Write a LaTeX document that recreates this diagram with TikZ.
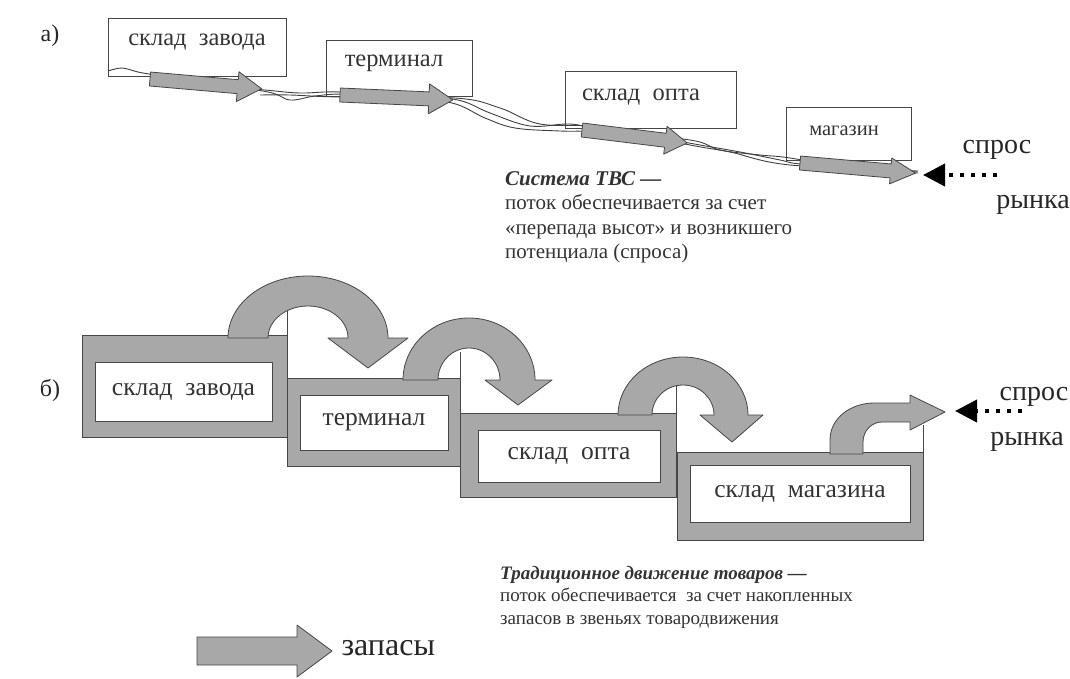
\documentclass[tikz,border=0pt]{standalone}
\usepackage{fontspec}
\setmainfont{Liberation Serif}
\usepackage{xcolor}
\usepackage{tikz}
\usetikzlibrary{arrows.meta, positioning}
\definecolor{stockgray}{RGB}{168,168,168}
\definecolor{edgegray}{RGB}{70,70,70}
\tikzstyle{boxA} = [rectangle, 
draw=edgegray, 
line width=0.8pt, 
inner sep=0pt]
\tikzstyle{outerB} = [rectangle, 
draw=edgegray, 
fill=stockgray, 
line width=0.9pt, 
inner sep=0pt]
\tikzstyle{innerB} = [rectangle, 
draw=edgegray, 
fill=white, 
line width=0.9pt, 
inner sep=0pt, 
text=black!80, 
font=\fontsize{25.5}{28}\selectfont]
\tikzstyle{lblA} = [text=black!80, font=\fontsize{24.5}{27}\selectfont]
\tikzstyle{bigtext} = [text=black!85, font=\fontsize{28}{30}\selectfont]
\tikzstyle{caption} = [align=left, inner sep=0pt, text=black!80, font=\fontsize{21}{24.5}\selectfont]
\tikzstyle{stock} = [draw=edgegray, fill=stockgray, line width=0.8pt, line join=round]
\tikzstyle{flowline} = [black!75, line width=0.9pt]
\tikzstyle{demand} = [line width=4pt, dash pattern=on 4pt off 7pt, -{Triangle[length=22pt,width=22pt]}]

\begin{document}
\begin{tikzpicture}[x=1pt, y=-1pt]
			\useasboundingbox (0,0) rectangle (1070,678);
			
			% а) система ТВС
			\node (labA) [text=black!85, font=\fontsize{24}{28}\selectfont] at (50,36) {а)};
			\node (zavodA) [boxA, minimum width=178pt, minimum height=58pt] at (197,47) {};
			\node (zavodAtxt) [lblA] at (197,42) {склад~ завода};
			\node (termA) [boxA, minimum width=146pt, minimum height=56pt] at (399,68) {};
			\node (termAtxt) [lblA] at (394,63) {терминал};
			\node (optA) [boxA, minimum width=171pt, minimum height=57pt] at (650.5,99.5) {};
			\node (optAtxt) [lblA] at (641,97) {склад~ опта};
			\node (magA) [boxA, minimum width=125pt, minimum height=53pt] at (848.5,133.5) {};
			\node (magAtxt) [lblA, font=\fontsize{20.5}{23}\selectfont] at (844,131) {магазин};
			
			\draw [flowline] plot [smooth, tension=0.6] coordinates {(108,71) (122,68) (138,72) (155,75) (200,82) (268,92) (290,100) (315,96) (345,94) (410,96) (458,100) (490,113) (530,126) (570,124) (600,130) (660,138) (700,145) (740,152) (780,160) (800,164) (860,168) (918,172)};
			\draw [flowline] plot [smooth, tension=0.6] coordinates {(150,78) (210,85) (265,90) (300,93) (340,92) (400,98) (452,103) (485,118) (515,128) (560,131) (600,132) (690,140) (720,150) (760,155) (790,158) (860,170) (918,173)};
			\draw [flowline] plot [smooth, tension=0.6] coordinates {(260,95) (290,95) (340,97) (455,98) (500,108) (540,124) (600,127) (690,145) (730,152) (790,165) (918,171)};
			
			\draw [stock, shift={(150,79)}, rotate=-5] (0,-7) -- (88,-7) -- (88,-15) -- (112,0) -- (88,15) -- (88,7) -- (0,7) -- cycle;
			\draw [stock, shift={(340,95)}, rotate=-2.5] (0,-7) -- (89,-7) -- (89,-15) -- (113,0) -- (89,15) -- (89,7) -- (0,7) -- cycle;
			\draw [stock, shift={(582,130)}, rotate=-7] (0,-7) -- (84,-7) -- (84,-14) -- (106,0) -- (84,14) -- (84,7) -- (0,7) -- cycle;
			\draw [stock, shift={(800,163)}, rotate=-5] (0,-7) -- (91,-7) -- (91,-13) -- (116,0) -- (91,13) -- (91,7) -- (0,7) -- cycle;
			
			\node (sprosA) [bigtext] at (997,150) {спрос};
			\node (rynokA) [bigtext] at (1033,205) {рынка};
			\coordinate (demA) at (997,175);
			\coordinate (demAtip) at (923,175);
			\draw [demand] (demA) -- (demAtip);
			
			\node (tbcA) [caption, anchor=north west] at (505,171) {\textbf{\textit{Система ТВС —}}\\поток обеспечивается за счет\\«перепада высот» и возникшего\\потенциала (спроса)};
			
			% б) традиционное движение
			\node (labB) [text=black!85, font=\fontsize{24}{28}\selectfont] at (50,390) {б)};
			\node (zavodB) [outerB, minimum width=205pt, minimum height=102pt] at (184.5,386) {};
			\node (zavodBin) [innerB, minimum width=177pt, minimum height=59pt] at (183.5,391.5) {склад~ завода};
			\node (termB) [outerB, minimum width=173pt, minimum height=88pt] at (373.5,422) {};
			\node (termBin) [innerB, minimum width=148pt, minimum height=55pt] at (374,422.5) {терминал};
			\node (optB) [outerB, minimum width=216pt, minimum height=84pt] at (568,455) {};
			\node (optBin) [innerB, minimum width=182pt, minimum height=52pt] at (569,456) {склад~ опта};
			\node (magB) [outerB, minimum width=246pt, minimum height=88pt] at (800,496) {};
			\node (magBin) [innerB, minimum width=220pt, minimum height=57pt] at (800,493.5) {склад~ магазина};
			
			\draw [edgegray, line width=0.9pt] (zavodB.north east) -- ++(0,-25);
			\draw [edgegray, line width=0.9pt] (termB.north east) -- ++(0,-26);
			\draw [edgegray, line width=0.9pt] (optB.north east) -- ++(0,-28);
			\draw [edgegray, line width=0.9pt] (magB.north east) -- ++(0,-27);
			
			\draw [stock] (228,338) arc [start angle=180, end angle=0, x radius=80pt, y radius=62pt] -- (408,338) -- (368,368) -- (328,338) -- (348,338) arc [start angle=0, end angle=180, x radius=40pt, y radius=32pt] -- cycle;
			\draw [stock] (403,380) arc [start angle=180, end angle=0, x radius=66pt, y radius=62pt] -- (552,380) -- (518,405) -- (485,380) -- (500,380) arc [start angle=0, end angle=180, x radius=31pt, y radius=32pt] -- cycle;
			\draw [stock] (618,415) arc [start angle=180, end angle=0, x radius=65pt, y radius=58pt] -- (763,415) -- (732,442) -- (700,415) -- (714,415) arc [start angle=0, end angle=180, x radius=31pt, y radius=30pt] -- cycle;
			\draw [stock] (830,454) -- (830,440) to [out=90, in=180] (874,403) -- (910,403) -- (910,395) -- (945,412) -- (910,430) -- (910,422) -- (882,422) to [out=180, in=90] (863,442) -- (863,454) -- cycle;
			
			\node (sprosB) [bigtext] at (1034,397) {спрос};
			\node (rynokB) [bigtext] at (1027,442) {рынка};
			\coordinate (demB) at (1022,411);
			\coordinate (demBtip) at (955,411);
			\draw [demand] (demB) -- (demBtip);
			
			\node (tradB) [caption, font=\fontsize{19}{22.5}\selectfont, anchor=north west] at (500,566) {\textbf{\textit{Традиционное движение товаров —}}\\поток обеспечивается~ за счет накопленных\\запасов в звеньях товародвижения};
			
			% легенда
			\draw [stock] (197,637) -- (297,637) -- (297,625) -- (332,651) -- (297,677) -- (297,665) -- (197,665) -- cycle;
			\node (zapasy) [bigtext, font=\fontsize{32}{34}\selectfont, anchor=west] at (338,648) {запасы};
		\end{tikzpicture}
\end{document}
